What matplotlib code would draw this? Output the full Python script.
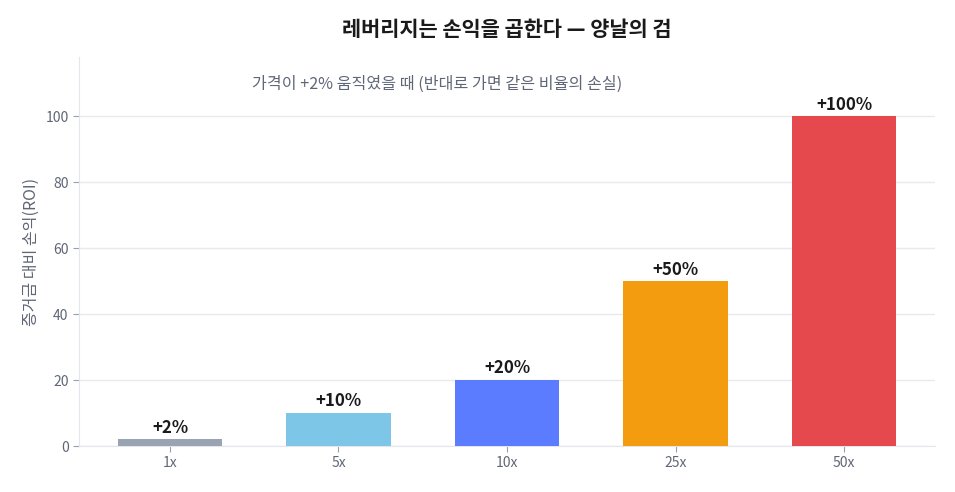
import matplotlib
matplotlib.use("Agg")
import matplotlib.pyplot as plt

plt.rcParams['font.family'] = ['Noto Sans CJK KR', 'DejaVu Sans']

categories = ["1x", "5x", "10x", "25x", "50x"]
values = [2, 10, 20, 50, 100]
labels = ["+2%", "+10%", "+20%", "+50%", "+100%"]
colors = ["#9aa3b2", "#7dc6e7", "#5b7cff", "#f39c0f", "#e5484d"]

fig = plt.figure(figsize=(9.55, 4.92), dpi=100)
ax = fig.add_axes([79/955, 1-446/492, (935-79)/955, (446-57)/492])

x = range(len(categories))
ax.bar(x, values, width=0.62, color=colors, zorder=3)
for xi, v, lab in zip(x, values, labels):
    ax.text(xi, v + 0.8, lab, ha='center', va='bottom', fontsize=12.2,
            fontweight='bold', color='#1a1a1a', zorder=4)

ax.set_xlim(-0.54, 4.54)
ax.set_ylim(0, 118)
ax.set_xticks(list(x))
ax.set_xticklabels(categories)
ax.set_yticks([0, 20, 40, 60, 80, 100])
ax.tick_params(colors='#5f6675', labelsize=10, length=4)
for t in ax.get_xticklabels() + ax.get_yticklabels():
    t.set_color('#5f6675')
ax.tick_params(axis='both', color='#9aa0aa')
ax.grid(axis='y', color='#e8eaef', linewidth=1, zorder=0)
for s in ['top', 'right']:
    ax.spines[s].set_visible(False)
for s in ['left', 'bottom']:
    ax.spines[s].set_color('#e3e6ec')

ax.set_ylabel('증거금 대비 손익(ROI)', fontsize=11.5, color='#5f6675')
ax.text(0.418, (446-84)/(446-57), '가격이 +2% 움직였을 때 (반대로 가면 같은 비율의 손실)',
        transform=ax.transAxes, ha='center', va='center', fontsize=11.6, color='#5f6675')

fig.text(0.5305, 1-30/492, '레버리지는 손익을 곱한다 — 양날의 검', ha='center', va='center',
         fontsize=15, fontweight='bold', color='#1a1a1a')

fig.savefig('out.png', dpi=100, facecolor='white')
